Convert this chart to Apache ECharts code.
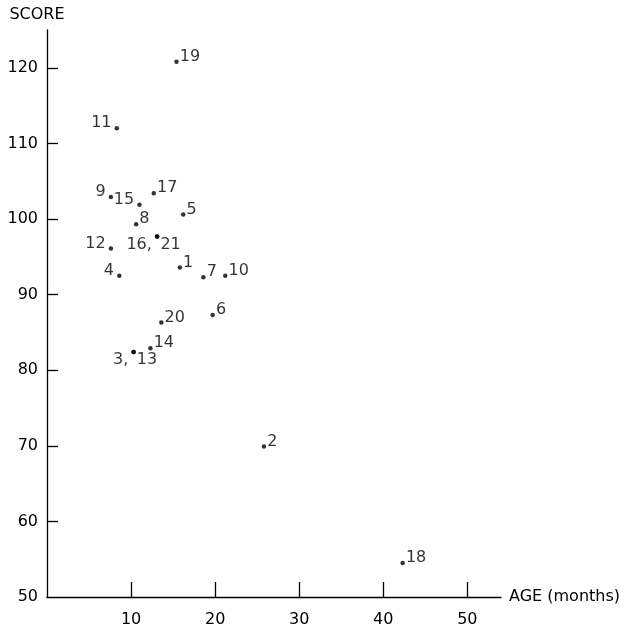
<!DOCTYPE html>
<html>
<head>
<meta charset="utf-8">
<script src="https://cdn.jsdelivr.net/npm/echarts@6/dist/echarts.min.js"></script>
<style>
  html, body { margin: 0; padding: 0; background: #fff; }
  #chart { width: 635px; height: 628px; }
</style>
</head>
<body>
<div id="chart"></div>
<script>
// child number, age at first word (months), score
var childIds = ['1', '2', '3', '4', '5', '6', '7', '8', '9', '10', '11',
                '12', '13', '14', '15', '16', '17', '18', '19', '20', '21'];
var ages   = [15.8, 25.8, 10.3, 8.6, 16.2, 19.7, 18.6, 10.6, 7.6, 21.2, 8.3,
              7.6, 10.3, 12.3, 11.0, 13.1, 12.7, 42.3, 15.4, 13.6, 13.1];
var scores = [93.6, 69.9, 82.4, 92.5, 100.6, 87.3, 92.3, 99.3, 102.9, 92.5, 112.0,
              96.1, 82.4, 82.9, 101.9, 97.7, 103.4, 54.5, 120.8, 86.3, 97.7];

var xTicks = [10, 20, 30, 40, 50];
var yTicks = [50, 60, 70, 80, 90, 100, 110, 120];

// which side of the dot the child number is written on
// L/R = beside the dot, L2/R2 = beside and a little lower (the "16;21" and "3;13" pairs)
var labelSide = {
  '3': 'L2', '4': 'L', '9': 'L', '11': 'L', '12': 'L', '15': 'L', '16': 'L2',
  '13': 'R2', '21': 'R2'
};

var font = 'DejaVu Sans';
var ink = '#000';

function labelFor(id) {
  var side = labelSide[id] || 'R';
  var left = side.charAt(0) === 'L';
  var low = side.length > 1;
  var txt = id;
  if (low && left) txt = id + ',';
  return {
    show: true,
    formatter: txt,
    position: left ? 'left' : 'right',
    distance: left ? 3 : 1,
    offset: [0, low ? 8 : -5],
    fontFamily: font,
    fontSize: 16,
    color: ink
  };
}

var points = ages.map(function (a, i) {
  return {
    value: [a, scores[i]],
    label: labelFor(childIds[i])
  };
});

var chart = echarts.init(document.getElementById('chart'));
chart.setOption({
  animation: false,
  backgroundColor: '#fff',
  grid: { left: 47, right: 134, top: 30, bottom: 28, containLabel: false },
  xAxis: {
    type: 'value',
    min: 0,
    max: 54,
    interval: 10,
    name: 'AGE (months)',
    nameLocation: 'end',
    nameGap: 8,
    nameTextStyle: { fontFamily: font, fontSize: 16, color: ink },
    splitLine: { show: false },
    axisLine: { lineStyle: { color: ink, width: 1.3 } },
    axisTick: { inside: true, length: 15, lineStyle: { color: ink, width: 1.3 },
                customValues: xTicks },
    axisLabel: { fontFamily: font, fontSize: 16, color: ink, margin: 15,
                 customValues: xTicks }
  },
  yAxis: {
    type: 'value',
    min: 50,
    max: 125,
    interval: 10,
    name: 'SCORE',
    nameLocation: 'end',
    nameGap: 7,
    nameTextStyle: { fontFamily: font, fontSize: 16, color: ink, align: 'center',
                     padding: [0, 20, 0, 0] },
    splitLine: { show: false },
    axisLine: { show: true, lineStyle: { color: ink, width: 1.3 } },
    axisTick: { show: true, inside: true, length: 11, lineStyle: { color: ink, width: 1.3 },
                customValues: yTicks.slice(1) },
    axisLabel: { fontFamily: font, fontSize: 16, color: ink, margin: 9,
                 customValues: yTicks }
  },
  series: [{
    type: 'scatter',
    symbol: 'circle',
    symbolSize: 4.5,
    itemStyle: { color: ink },
    data: points
  }]
});
</script>
</body>
</html>
